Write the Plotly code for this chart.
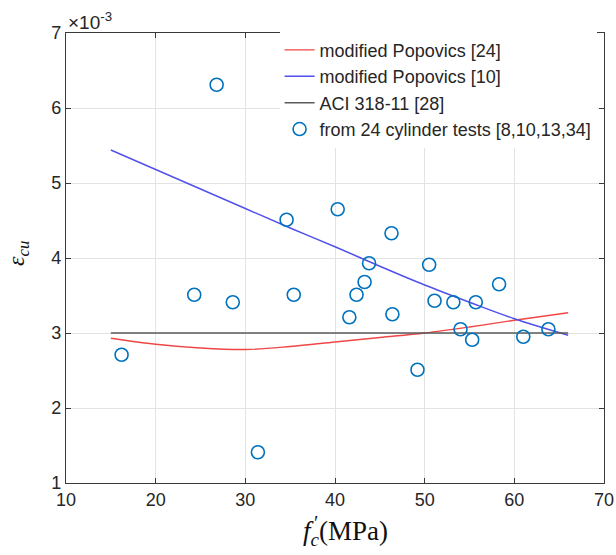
import plotly.graph_objects as go

# values in units of 1e-3
test_fc = [16.2, 26.8, 24.3, 28.6, 35.4, 31.4, 34.6, 40.3, 46.3, 43.8, 50.5, 43.3,
           42.4, 41.6, 46.4, 51.1, 53.2, 55.7, 58.3, 54.0, 55.3, 49.2, 61.0, 63.8]
test_ecu = [2.71, 6.31, 3.51, 3.41, 3.51, 1.41, 4.51, 4.65, 4.33, 3.93, 3.91, 3.68,
            3.51, 3.21, 3.25, 3.43, 3.41, 3.41, 3.65, 3.05, 2.91, 2.51, 2.95, 3.05]

model_fc = [15, 20, 25, 30, 35, 40, 45, 50, 55, 60, 66]
popovics24 = [2.93, 2.85, 2.80, 2.78, 2.82, 2.88, 2.94, 3.00, 3.08, 3.17, 3.27]
popovics10 = [5.44, 5.18, 4.92, 4.66, 4.40, 4.15, 3.89, 3.64, 3.41, 3.19, 2.97]
aci_fc = [15, 66]
aci_ecu = [3.0, 3.0]

x_ticks = [10, 20, 30, 40, 50, 60, 70]
y_ticks = [1, 2, 3, 4, 5, 6, 7]

fig = go.Figure()
fig.add_trace(go.Scatter(x=model_fc, y=popovics24, mode="lines", name="modified Popovics [24]",
                         line=dict(color="rgb(240,70,70)", width=1.4, shape="spline")))
fig.add_trace(go.Scatter(x=model_fc, y=popovics10, mode="lines", name="modified Popovics [10]",
                         line=dict(color="rgb(80,80,235)", width=1.4, shape="spline")))
fig.add_trace(go.Scatter(x=aci_fc, y=aci_ecu, mode="lines", name="ACI 318-11 [28]",
                         line=dict(color="rgb(90,90,90)", width=1.5)))
fig.add_trace(go.Scatter(x=test_fc, y=test_ecu, mode="markers",
                         name="from 24 cylinder tests [8,10,13,34]",
                         marker=dict(symbol="circle-open", size=13, color="#0072BD",
                                     line=dict(width=1.6, color="#0072BD"))))

axis_common = dict(
    showgrid=True, gridcolor="#e3e3e3", gridwidth=1,
    showline=True, linecolor="#3a3a3a", linewidth=1.2, mirror="ticks",
    ticks="inside", ticklen=5, tickcolor="#3a3a3a",
    tickfont=dict(family="Liberation Sans, Arial", size=18, color="#262626"),
    zeroline=False, automargin=False,
)

fig.update_xaxes(range=[10, 70], tickvals=x_ticks, **axis_common)
fig.update_yaxes(range=[1, 7], tickvals=y_ticks, **axis_common)

serif = "Liberation Serif, Times New Roman"
# x-axis title
fig.add_annotation(text="<i>f</i><sub><i>c</i></sub>(MPa)", xref="paper", yref="paper",
                   x=0.52, y=0, xanchor="center", yanchor="middle", yshift=-50,
                   showarrow=False, font=dict(family=serif, size=27, color="#111"))
fig.add_annotation(text="′", xref="paper", yref="paper",
                   x=0.52, y=0, xanchor="center", yanchor="middle", yshift=-40, xshift=-30,
                   showarrow=False, font=dict(family=serif, size=20, color="#111"))
# y-axis title
fig.add_annotation(text="<i>ε</i><sub><i>cu</i></sub>", xref="paper", yref="paper",
                   x=0, y=0.5, xanchor="center", yanchor="middle", xshift=-48, yshift=4,
                   textangle=-90, showarrow=False, font=dict(family=serif, size=24, color="#111"))

fig.add_annotation(text="×10<sup>-3</sup>", xref="paper", yref="paper", x=0.0, y=1.0,
                   xanchor="left", yanchor="bottom", showarrow=False, xshift=0, yshift=-2,
                   font=dict(family="Liberation Sans, Arial", size=19, color="#262626"))

fig.update_layout(
    width=616, height=555,
    margin=dict(l=66, r=12, t=33, b=72),
    paper_bgcolor="white", plot_bgcolor="white",
    legend=dict(x=0.397, y=1.003, xanchor="left", yanchor="top",
                bgcolor="white", borderwidth=0,
                font=dict(family="Liberation Sans, Arial", size=18, color="#262626")),
    showlegend=True,
)

fig.write_html("out.html", config={"displayModeBar": False},
               post_script="document.body.style.margin='0';document.body.style.padding='0';")
